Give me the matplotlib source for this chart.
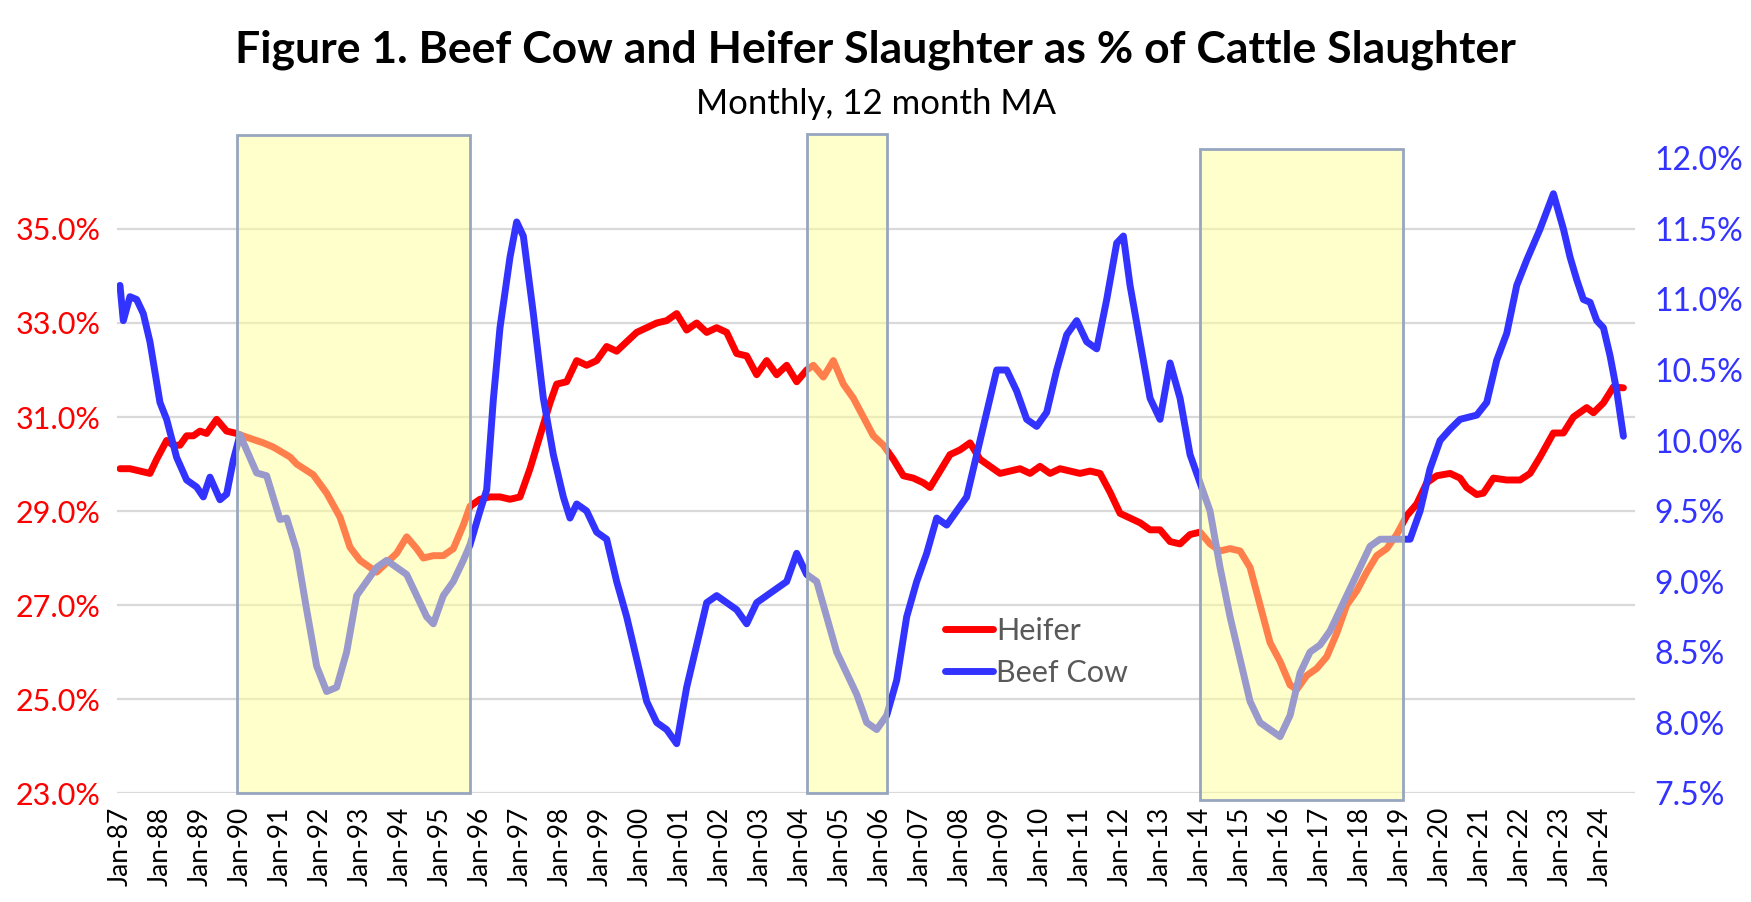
import numpy as np
import pandas as pd
import matplotlib
matplotlib.use("Agg")
import matplotlib.pyplot as plt
from matplotlib.patches import Rectangle
from matplotlib.transforms import blended_transform_factory
from matplotlib.ticker import FuncFormatter

plt.rcParams['font.family'] = ['Lato', 'DejaVu Sans']

# heifer slaughter share, % (left axis)
heifer_months = ["1987-01", "1987-04", "1987-07", "1987-10", "1987-12", "1988-03", "1988-05", "1988-07",
                 "1988-09", "1988-11", "1989-01", "1989-03", "1989-06", "1989-09", "1989-12", "1990-03",
                 "1990-08", "1990-11", "1991-04", "1991-06", "1991-11", "1992-03", "1992-07", "1992-10",
                 "1993-01", "1993-04", "1993-06", "1993-09", "1993-12", "1994-03", "1994-06", "1994-08",
                 "1994-11", "1995-02", "1995-05", "1995-08", "1995-10", "1996-01", "1996-04", "1996-07",
                 "1996-10", "1997-01", "1997-04", "1997-07", "1997-10", "1997-12", "1998-03", "1998-06",
                 "1998-09", "1998-12", "1999-03", "1999-06", "1999-09", "1999-12", "2000-03", "2000-06",
                 "2000-09", "2000-12", "2001-03", "2001-06", "2001-09", "2001-12", "2002-03", "2002-06",
                 "2002-09", "2002-12", "2003-03", "2003-06", "2003-09", "2003-12", "2004-03", "2004-05",
                 "2004-08", "2004-11", "2005-02", "2005-05", "2005-08", "2005-11", "2006-02", "2006-05",
                 "2006-08", "2006-11", "2007-02", "2007-04", "2007-07", "2007-10", "2008-01", "2008-04",
                 "2008-07", "2008-10", "2009-01", "2009-04", "2009-07", "2009-10", "2010-01", "2010-04",
                 "2010-07", "2010-10", "2011-01", "2011-04", "2011-07", "2011-10", "2012-01", "2012-04",
                 "2012-07", "2012-10", "2013-01", "2013-04", "2013-07", "2013-10", "2014-01", "2014-04",
                 "2014-07", "2014-10", "2015-01", "2015-04", "2015-07", "2015-10", "2016-01", "2016-04",
                 "2016-06", "2016-09", "2016-12", "2017-03", "2017-06", "2017-09", "2017-12", "2018-03",
                 "2018-06", "2018-09", "2018-12", "2019-03", "2019-06", "2019-09", "2019-12", "2020-04",
                 "2020-07", "2020-09", "2020-12", "2021-02", "2021-05", "2021-09", "2022-01", "2022-04",
                 "2022-07", "2022-11", "2023-02", "2023-05", "2023-09", "2023-11", "2024-02", "2024-05",
                 "2024-08"]
heifer = [29.9, 29.9, 29.85, 29.8, 30.1, 30.5, 30.4, 30.4,
          30.6, 30.6, 30.7, 30.65, 30.95, 30.7, 30.65, 30.57,
          30.45, 30.36, 30.15, 30.0, 29.77, 29.38, 28.87, 28.23,
          27.95, 27.8, 27.7, 27.9, 28.1, 28.45, 28.2, 28.0,
          28.05, 28.05, 28.2, 28.7, 29.1, 29.25, 29.3, 29.3,
          29.25, 29.3, 29.9, 30.6, 31.3, 31.7, 31.75, 32.2,
          32.1, 32.2, 32.5, 32.4, 32.6, 32.8, 32.9, 33.0,
          33.05, 33.2, 32.85, 33.0, 32.8, 32.9, 32.8, 32.35,
          32.3, 31.9, 32.2, 31.9, 32.1, 31.75, 32.0, 32.1,
          31.85, 32.2, 31.7, 31.4, 31.0, 30.6, 30.4, 30.1,
          29.75, 29.7, 29.6, 29.5, 29.85, 30.2, 30.3, 30.45,
          30.1, 29.95, 29.8, 29.85, 29.9, 29.8, 29.95, 29.8,
          29.9, 29.85, 29.8, 29.85, 29.8, 29.4, 28.95, 28.85,
          28.75, 28.6, 28.6, 28.35, 28.3, 28.5, 28.55, 28.3,
          28.15, 28.2, 28.15, 27.8, 27.0, 26.2, 25.8, 25.3,
          25.2, 25.5, 25.65, 25.9, 26.4, 27.0, 27.3, 27.7,
          28.05, 28.2, 28.5, 28.9, 29.15, 29.6, 29.75, 29.8,
          29.7, 29.5, 29.35, 29.38, 29.7, 29.66, 29.66, 29.8,
          30.15, 30.66, 30.66, 31.0, 31.2, 31.09, 31.3, 31.64,
          31.62]

# beef cow slaughter share, % (right axis)
cow_months = ["1987-01", "1987-02", "1987-04", "1987-06", "1987-08", "1987-10", "1988-01", "1988-03",
              "1988-06", "1988-09", "1988-12", "1989-02", "1989-04", "1989-07", "1989-09", "1989-11",
              "1990-01", "1990-06", "1990-09", "1991-01", "1991-03", "1991-06", "1991-09", "1991-12",
              "1992-03", "1992-06", "1992-09", "1992-12", "1993-03", "1993-06", "1993-09", "1993-12",
              "1994-03", "1994-06", "1994-09", "1994-11", "1995-02", "1995-05", "1995-08", "1995-10",
              "1996-01", "1996-03", "1996-05", "1996-07", "1996-10", "1996-12", "1997-02", "1997-05",
              "1997-08", "1997-11", "1998-02", "1998-04", "1998-06", "1998-09", "1998-12", "1999-03",
              "1999-06", "1999-09", "1999-12", "2000-03", "2000-06", "2000-09", "2000-12", "2001-03",
              "2001-06", "2001-09", "2001-12", "2002-03", "2002-06", "2002-09", "2002-12", "2003-03",
              "2003-06", "2003-09", "2003-12", "2004-03", "2004-06", "2004-09", "2004-12", "2005-03",
              "2005-06", "2005-09", "2005-12", "2006-03", "2006-06", "2006-09", "2006-12", "2007-03",
              "2007-06", "2007-09", "2007-12", "2008-03", "2008-06", "2008-09", "2008-12", "2009-03",
              "2009-06", "2009-09", "2009-12", "2010-03", "2010-06", "2010-09", "2010-12", "2011-03",
              "2011-06", "2011-09", "2011-12", "2012-02", "2012-04", "2012-07", "2012-10", "2013-01",
              "2013-04", "2013-07", "2013-10", "2014-01", "2014-04", "2014-07", "2014-10", "2015-01",
              "2015-04", "2015-07", "2015-10", "2016-01", "2016-04", "2016-07", "2016-10", "2017-01",
              "2017-04", "2017-07", "2017-10", "2018-01", "2018-04", "2018-07", "2018-10", "2019-01",
              "2019-04", "2019-07", "2019-10", "2020-01", "2020-04", "2020-07", "2020-12", "2021-03",
              "2021-06", "2021-09", "2021-12", "2022-03", "2022-07", "2022-11", "2023-02", "2023-04",
              "2023-06", "2023-08", "2023-10", "2023-12", "2024-02", "2024-04", "2024-06", "2024-08"]
beef_cow = [11.1, 10.85, 11.02, 11.0, 10.9, 10.7, 10.27, 10.15,
            9.88, 9.72, 9.67, 9.6, 9.74, 9.58, 9.62, 9.86,
            10.04, 9.77, 9.75, 9.44, 9.45, 9.22, 8.8, 8.4,
            8.22, 8.25, 8.5, 8.9, 9.0, 9.1, 9.15, 9.1,
            9.05, 8.9, 8.75, 8.7, 8.9, 9.0, 9.15, 9.26,
            9.5, 9.65, 10.29, 10.8, 11.3, 11.55, 11.45, 10.9,
            10.3, 9.9, 9.6, 9.45, 9.55, 9.5, 9.35, 9.3,
            9.0, 8.75, 8.45, 8.15, 8.0, 7.95, 7.85, 8.25,
            8.55, 8.85, 8.9, 8.85, 8.8, 8.7, 8.85, 8.9,
            8.95, 9.0, 9.2, 9.05, 9.0, 8.75, 8.5, 8.35,
            8.2, 8.0, 7.95, 8.05, 8.3, 8.75, 9.0, 9.2,
            9.45, 9.4, 9.5, 9.6, 9.9, 10.2, 10.5, 10.5,
            10.35, 10.15, 10.1, 10.2, 10.5, 10.75, 10.85, 10.7,
            10.65, 11.0, 11.4, 11.45, 11.1, 10.7, 10.3, 10.15,
            10.55, 10.3, 9.9, 9.7, 9.5, 9.1, 8.75, 8.45,
            8.15, 8.0, 7.95, 7.9, 8.05, 8.35, 8.5, 8.55,
            8.65, 8.8, 8.95, 9.1, 9.25, 9.3, 9.3, 9.3,
            9.3, 9.5, 9.8, 10.0, 10.08, 10.15, 10.18, 10.27,
            10.57, 10.76, 11.1, 11.28, 11.5, 11.75, 11.5, 11.3,
            11.14, 11.0, 10.98, 10.85, 10.8, 10.6, 10.35, 10.03]

# shaded periods (start, end)
periods = [("1989-12", "1995-10"), ("2004-03", "2006-03"), ("2014-01", "2019-02")]
period_tops = [1.037, 1.038, 1.015]
period_bottoms = [0.0, 0.0, -0.011]


def month_index(s):
    d = pd.to_datetime(s)
    return (d.year - 1987) * 12 + (d.month - 1)


hx = [month_index(m) for m in heifer_months]
cx = [month_index(m) for m in cow_months]

fig = plt.figure(figsize=(17.51, 9.02), dpi=100)
ax = fig.add_axes([0.0668, 0.1208, 0.867, 0.7035])
ax2 = ax.twinx()

red = '#FF0000'
blue = '#3333FF'

l1, = ax.plot(hx, heifer, color=red, lw=5, solid_capstyle='round', label='Heifer')
l2, = ax2.plot(cx, beef_cow, color=blue, lw=5, solid_capstyle='round', label='Beef Cow')

ax.set_ylim(23, 36.5)
ax.set_yticks(np.arange(23, 36, 2))
ax2.set_ylim(7.5, 12.0)
ax2.set_yticks(np.arange(7.5, 12.01, 0.5))
ax.set_xlim(-0.9, 454.5)

ax.yaxis.set_major_formatter(FuncFormatter(lambda v, p: f"{v:.1f}%"))
ax2.yaxis.set_major_formatter(FuncFormatter(lambda v, p: f"{v:.1f}%"))

xt = np.arange(0, 445, 12)
ax.set_xticks(xt)
ax.set_xticklabels([f"Jan-{(87 + i) % 100:02d}" for i in range(len(xt))], rotation=90, fontsize=19)

ax.grid(axis='y', color='#D9D9D9', lw=1.6)
ax.set_axisbelow(True)
for a in (ax, ax2):
    for s in a.spines.values():
        s.set_visible(False)
    a.tick_params(length=0)

ax.tick_params(axis='y', colors=red, labelsize=22, pad=12)
ax.tick_params(axis='x', colors='black', pad=10)
ax2.tick_params(axis='y', colors=blue, labelsize=23, pad=14)

trans = blended_transform_factory(ax2.transData, ax2.transAxes)
for (a, b), top, bot in zip(periods, period_tops, period_bottoms):
    x0 = month_index(a)
    x1 = month_index(b)
    r = Rectangle((x0, bot), x1 - x0, top - bot, transform=trans,
                  facecolor=(1, 1, 0.6, 0.5), edgecolor='#97A6BF', lw=2,
                  zorder=5, clip_on=False)
    ax2.add_patch(r)

leg = ax2.legend(handles=[l1, l2], loc='lower left', bbox_to_anchor=(0.527, 0.124),
                 frameon=False, fontsize=22, handlelength=1.6, handletextpad=0.1,
                 labelspacing=0.45)
leg.set_zorder(10)
for t in leg.get_texts():
    t.set_color('#595959')

fig.text(0.5, 0.945, "Figure 1. Beef Cow and Heifer Slaughter as % of Cattle Slaughter",
         ha='center', va='center', fontsize=32, fontweight='bold')
fig.text(0.5, 0.885, "Monthly, 12 month MA", ha='center', va='center', fontsize=25)

fig.savefig("out.png", dpi=100)
